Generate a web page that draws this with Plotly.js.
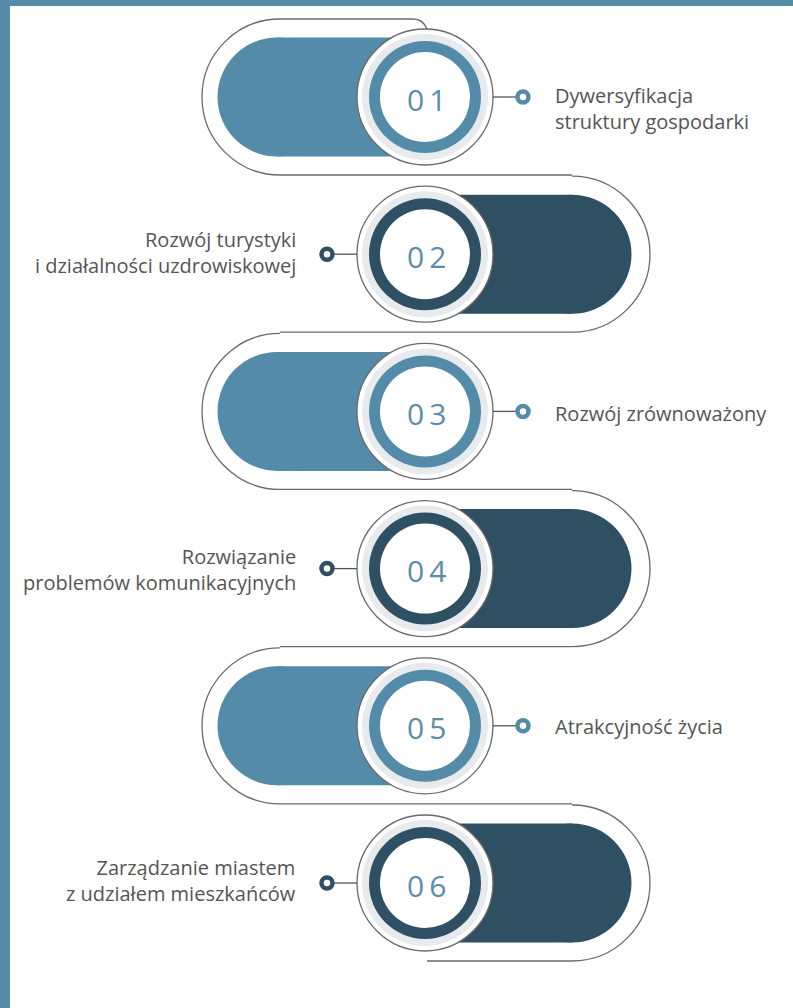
<!DOCTYPE html>
<html>
<head>
<meta charset="utf-8">
<script src="https://cdn.plot.ly/plotly-3.0.1.min.js"></script>
<style>html,body{margin:0;padding:0;background:#fff;}#chart{width:793px;height:1008px;}</style>
</head>
<body>
<div id="chart"></div>
<script>
// ---- data ----
var stepNumbers = ["01", "02", "03", "04", "05", "06"];
var stepLabels = [
  "Dywersyfikacja<br>struktury gospodarki",
  "Rozwój turystyki<br>i działalności uzdrowiskowej",
  "Rozwój zrównoważony",
  "Rozwiązanie<br>problemów komunikacyjnych",
  "Atrakcyjność życia",
  "Zarządzanie miastem<br>z udziałem mieszkańców"
];
var stepSides = ["right", "left", "right", "left", "right", "left"]; // side of the label
var stepColors = ["#548ba9", "#2f4f62", "#548ba9", "#2f4f62", "#548ba9", "#2f4f62"];

// ---- layout constants ----
var W = 793, H = 1008;
var firstY = 97, stepY = 157.2;
var cx = 425;            // centre of number circles
var leftC = 280, rightC = 572; // centres of outline arcs
var outR = 78, pillR = 59.5;
var K = 0.5523;
var outlineColor = "#6a6a6a";
var labelShift = [11, -2, 2, 1, 1, -3]; // vertical nudge of label blocks (px)

var shapes = [];
var annotations = [];

// frame
shapes.push({type:"rect", xref:"x", yref:"y", x0:0, x1:W, y0:0, y1:6, fillcolor:"#558ba7", line:{width:0}, layer:"above"});
shapes.push({type:"rect", xref:"x", yref:"y", x0:0, x1:10, y0:0, y1:H, fillcolor:"#558ba7", line:{width:0}, layer:"above"});

function semiPath(cxArc, cy, r, dir) {
  var k = K * r;
  var xe = cxArc + dir * r;
  return "M " + cxArc + "," + (cy - r) +
    " C " + (cxArc + dir * k) + "," + (cy - r) + " " + xe + "," + (cy - k) + " " + xe + "," + cy +
    " C " + xe + "," + (cy + k) + " " + (cxArc + dir * k) + "," + (cy + r) + " " + cxArc + "," + (cy + r);
}

var n = stepNumbers.length;
// serpentine outline
for (var i = 0; i < n; i++) {
  var yc = firstY + i * stepY;
  var dir = (i % 2 === 0) ? -1 : 1;
  var ac = dir < 0 ? leftC : rightC;
  shapes.push({type:"path", xref:"x", yref:"y", path: semiPath(ac, yc, outR, dir), line:{color:outlineColor, width:1.3}, layer:"below"});
  if (i < n - 1) {
    var yl = yc + outR;
    shapes.push({type:"line", xref:"x", yref:"y", x0:leftC, x1:rightC, y0:yl, y1:yl, line:{color:outlineColor, width:1.3}, layer:"below"});
  }
}
var yTop = firstY - outR;
shapes.push({type:"path", xref:"x", yref:"y",
  path:"M " + leftC + "," + yTop + " L " + (cx - 12) + "," + yTop + " Q " + (cx - 2) + "," + yTop + " " + (cx + 2) + "," + (yTop + 10),
  line:{color:outlineColor, width:1.3}, layer:"below"});
var yBot = firstY + (n - 1) * stepY + outR;
shapes.push({type:"line", xref:"x", yref:"y", x0:cx + 2, x1:rightC, y0:yBot, y1:yBot, line:{color:outlineColor, width:1.3}, layer:"below"});

for (var i = 0; i < n; i++) {
  var yc = firstY + i * stepY;
  var col = stepColors[i];
  var right = stepSides[i] === "right";
  if (right) {
    var pc = leftC - 3;
    shapes.push({type:"rect", xref:"x", yref:"y", x0:pc, x1:cx, y0:yc - pillR, y1:yc + pillR, fillcolor:col, line:{width:0}});
    shapes.push({type:"circle", xref:"x", yref:"y", x0:pc - pillR, x1:pc + pillR, y0:yc - pillR, y1:yc + pillR, fillcolor:col, line:{width:0}});
  } else {
    shapes.push({type:"rect", xref:"x", yref:"y", x0:cx, x1:rightC, y0:yc - pillR, y1:yc + pillR, fillcolor:col, line:{width:0}});
    shapes.push({type:"circle", xref:"x", yref:"y", x0:rightC - pillR, x1:rightC + pillR, y0:yc - pillR, y1:yc + pillR, fillcolor:col, line:{width:0}});
  }
  var rings = [
    {r:68, fill:"#ffffff", line:{color:outlineColor, width:1.3}},
    {r:63, fill:"#e7ebee", line:{width:0}},
    {r:56, fill:col, line:{width:0}},
    {r:45, fill:"#ffffff", line:{width:0}}
  ];
  rings.forEach(function (rg) {
    shapes.push({type:"circle", xref:"x", yref:"y", x0:cx - rg.r, x1:cx + rg.r, y0:yc - rg.r, y1:yc + rg.r, fillcolor:rg.fill, line:rg.line});
  });
  var dotX = right ? cx + 98 : cx - 98;
  var lineX0 = right ? cx + 68 : cx - 68;
  var lineX1 = right ? dotX - 6 : dotX + 6;
  shapes.push({type:"line", xref:"x", yref:"y", x0:lineX0, x1:lineX1, y0:yc, y1:yc, line:{color:"#555555", width:1.3}});
  shapes.push({type:"circle", xref:"x", yref:"y", x0:dotX - 5.5, x1:dotX + 5.5, y0:yc - 5.5, y1:yc + 5.5, fillcolor:"#ffffff", line:{color:col, width:4.5}});
  annotations.push({xref:"x", yref:"y", x:cx + 1, y:yc + 2, text:stepNumbers[i].split("").join("\u2009"), showarrow:false,
    xanchor:"center", yanchor:"middle", font:{family:"'Open Sans', sans-serif", size:30, color:"#5a8daa"}});
  annotations.push({xref:"x", yref:"y", x: right ? cx + 128 : cx - 127, y: yc + labelShift[i], text: stepLabels[i], showarrow:false,
    xanchor: right ? "left" : "right", yanchor:"middle", align: right ? "left" : "right",
    font:{family:"'Open Sans', sans-serif", size:20, color:"#555555"}});
}

var layout = {
  width: W, height: H,
  margin: {l:0, r:0, t:0, b:0, pad:0},
  paper_bgcolor: "#ffffff", plot_bgcolor: "#ffffff",
  xaxis: {range:[0, W], visible:false, fixedrange:true},
  yaxis: {range:[H, 0], visible:false, fixedrange:true},
  showlegend: false,
  shapes: shapes,
  annotations: annotations
};
Plotly.newPlot("chart", [{x:[], y:[], type:"scatter", mode:"markers", hoverinfo:"skip"}], layout, {displayModeBar:false, staticPlot:true});
</script>
</body>
</html>
